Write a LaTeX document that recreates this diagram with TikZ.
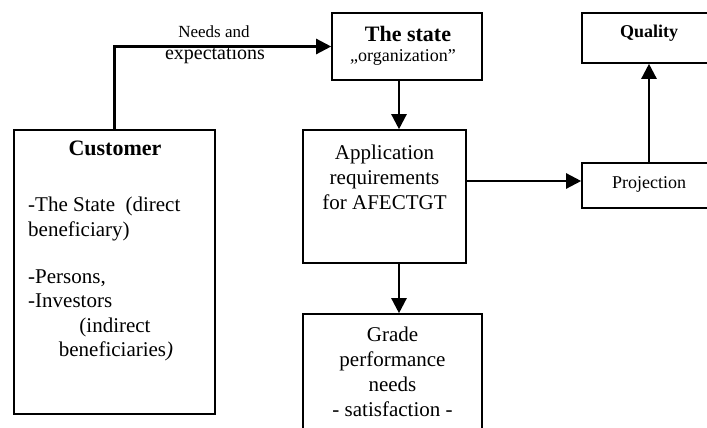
\documentclass[tikz,border=0pt]{standalone}
\usepackage{fontspec}
\setmainfont{Liberation Serif}
\usetikzlibrary{arrows.meta}
\tikzset{
  box/.style={draw=black, line width=1.6pt, rectangle, inner sep=0pt},
  arr/.style={line width=2.4pt, -{Triangle[length=15pt 0,width=15pt 0]}},
  txt/.style={inner sep=0pt, align=center},
}
\newcommand{\fs}[2]{\fontsize{#1}{#2}\selectfont}
\begin{document}
\begin{tikzpicture}[x=1pt,y=-1pt]
\useasboundingbox (0,0) rectangle (707,428);
\clip (0,0) rectangle (707,428);
% boxes
\node[box, minimum width=201pt, minimum height=284pt] (cust) at (114.5,272) {};
\node[box, minimum width=150pt, minimum height=67pt] (state) at (407,46.5) {};
\node[box, minimum width=134pt, minimum height=50pt] (qual) at (649,38) {};
\node[box, minimum width=134pt, minimum height=45pt] (proj) at (649,185.5) {};
\node[box, minimum width=163pt, minimum height=133pt] (app) at (384.5,196.5) {};
\node[box, minimum width=179pt, minimum height=126pt] (grade) at (392.5,377) {};
% coordinates for connector lines
\coordinate (colx) at (399,0);
\coordinate (rowy) at (0,181);
% texts
\node[txt, font=\fs{22}{26}\bfseries] (custT) at (115,148) {Customer};
\node[txt, anchor=base west, font=\fs{21}{25}] (c1) at (28,211) {-The State\ \ (direct};
\node[txt, anchor=base west, font=\fs{21}{25}] (c2) at (28,236) {beneficiary)};
\node[txt, anchor=base west, font=\fs{21}{25}] (c3) at (28,283) {-Persons,};
\node[txt, anchor=base west, font=\fs{21}{25}] (c4) at (28,307) {-Investors};
\node[txt, anchor=base, font=\fs{21}{25}] (c5) at (115,332) {(indirect};
\node[txt, anchor=base, font=\fs{21}{25}] (c6) at (116,356) {beneficiaries\textit{)}};
\node[txt, font=\fs{22}{26}\bfseries] (stateT) at (408,34) {The state};
\node[txt, font=\fs{18}{22}] (stateO) at (403,57) {,,organization''};
\node[txt, font=\fs{18}{22}\bfseries] (qualT) at (649,33) {Quality};
\node[txt, font=\fs{18}{22}] (projT) at (649,184) {Projection};
\node[txt, font=\fs{21}{25}] (appT) at (384.5,177) {Application\\requirements\\for AFECTGT};
\node[txt, font=\fs{21}{25}] (gradeT) at (392.5,372) {Grade\\performance\\needs\\- satisfaction -};
\node[txt, font=\fs{17}{20}] (lab1) at (214,32) {Needs and};
\node[txt, font=\fs{20}{24}] (lab2) at (215,55) {expectations};
% connectors
\draw[arr] (cust.north) |- (state.west);
\draw[arr] (state.south -| colx) -- (app.north -| colx);
\draw[arr] (app.east |- rowy) -- (proj.west |- rowy);
\draw[arr] (proj.north) -- (qual.south);
\draw[arr] (app.south -| colx) -- (grade.north -| colx);
\end{tikzpicture}
\end{document}
